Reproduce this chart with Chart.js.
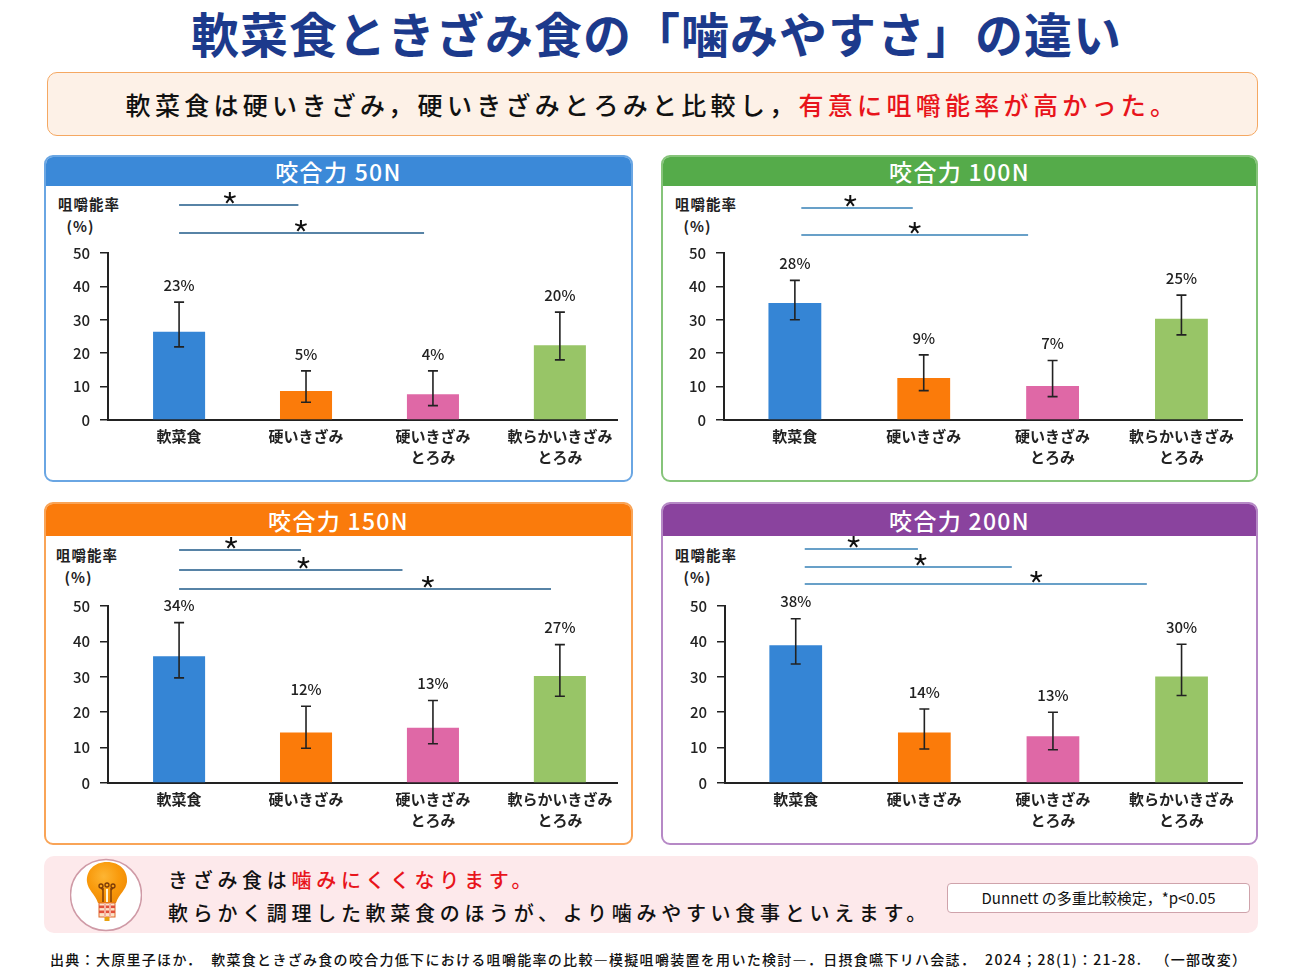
<!DOCTYPE html>
<html lang="ja">
<head>
<meta charset="UTF-8">
<title>軟菜食ときざみ食の「噛みやすさ」の違い</title>
<style>
    body {
        margin: 0;
        width: 1291px;
        height: 970px;
        background: #fff;
        font-family: "Noto Sans CJK JP", "Noto Sans", sans-serif;
        position: relative;
        overflow: hidden;
        color: #1a1a1a;
    }

    .title {
        position: absolute;
        left: 11px; top: 3px;
        width: 1291px;
        text-align: center;
        font-size: 48px;
        font-weight: 700;
        letter-spacing: 1px;
        color: #1c3a8c;
        line-height: 58px;
    }

    .lead {
        position: absolute;
        left: 47px; top: 72px;
        width: 1209px; height: 62px;
        background: #fdf1e7;
        border: 1.5px solid #f5a862;
        border-radius: 10px;
        text-align: center;
        font-size: 25px;
        line-height: 62px;
        letter-spacing: 4.3px;
        font-weight: 500;
        color: #111;
    }

    .red { color: #e8141b; }

    .panel {
        position: absolute;
        box-sizing: border-box;
        border: 2px solid;
        border-radius: 9px;
        overflow: hidden;
        background: #fff;
    }

    .panel .head {
        position: absolute;
        left: 0; right: 0; top: 0;
        color: #fff;
        text-align: center;
        font-size: 23px;
        font-weight: 500;
        letter-spacing: 1.3px;
    }

    .panel .wrap {
        position: absolute;
        left: 0; right: 0; bottom: 0;
    }

    .ytitle {
        position: absolute;
        font-size: 14.5px;
        font-weight: 700;
        line-height: 22px;
        color: #222;
        letter-spacing: 1px;
    }

    .note {
        position: absolute;
        left: 44px; top: 856px;
        width: 1214px; height: 77px;
        background: #fde9eb;
        border-radius: 10px;
    }

    .note .msg {
        position: absolute;
        left: 124px; top: 7px;
        font-size: 20px;
        font-weight: 500;
        letter-spacing: 4.7px;
        line-height: 33px;
        color: #111;
    }

    .note .bulb {
        position: absolute;
        left: 26px; top: 2px;
    }

    .dunnett {
        position: absolute;
        left: 903px; top: 27px;
        width: 301px; height: 28px;
        background: #fff;
        border: 1.5px solid #cfa3ab;
        border-radius: 4px;
        font-size: 15px;
        line-height: 28px;
        text-align: center;
        color: #111;
    }

    .source {
        position: absolute;
        left: 50px; top: 949px;
        font-size: 14px;
        font-weight: 500;
        letter-spacing: 1.3px;
        white-space: pre;
        color: #111;
    }
</style>
</head>
<body>
<div class="title">軟菜食ときざみ食の「噛みやすさ」の違い</div>
<div class="lead">軟菜食は硬いきざみ，硬いきざみとろみと比較し，<span class="red">有意に咀嚼能率が高かった。</span></div>

<div class="panel" id="p50" style="left:44px;top:155px;width:589px;height:327px;border-color:#6aa6e3;">
    <div class="head" style="height:29px;line-height:29px;background:#3b89d8;">咬合力 50N</div>
    <div class="ytitle" style="left:12px;top:36px;">咀嚼能率<br>&nbsp;&nbsp;(%)</div>
    <div class="wrap" style="top:29px;"><canvas id="c50"></canvas></div>
</div>
<div class="panel" id="p100" style="left:661px;top:155px;width:597px;height:327px;border-color:#86c47a;">
    <div class="head" style="height:29px;line-height:29px;background:#55ab4a;">咬合力 100N</div>
    <div class="ytitle" style="left:12px;top:36px;">咀嚼能率<br>&nbsp;&nbsp;(%)</div>
    <div class="wrap" style="top:29px;"><canvas id="c100"></canvas></div>
</div>
<div class="panel" id="p150" style="left:44px;top:502px;width:589px;height:343px;border-color:#f9a457;">
    <div class="head" style="height:32px;line-height:32px;background:#fa7b0c;">咬合力 150N</div>
    <div class="ytitle" style="left:10px;top:40px;">咀嚼能率<br>&nbsp;&nbsp;(%)</div>
    <div class="wrap" style="top:32px;"><canvas id="c150"></canvas></div>
</div>
<div class="panel" id="p200" style="left:661px;top:502px;width:597px;height:343px;border-color:#b689c6;">
    <div class="head" style="height:32px;line-height:32px;background:#8a439e;">咬合力 200N</div>
    <div class="ytitle" style="left:12px;top:40px;">咀嚼能率<br>&nbsp;&nbsp;(%)</div>
    <div class="wrap" style="top:32px;"><canvas id="c200"></canvas></div>
</div>

<div class="note">
    <svg class="bulb" width="72" height="74" viewBox="0 0 72 74">
        <defs>
            <radialGradient id="glass" cx="0.42" cy="0.35" r="0.7">
                <stop offset="0" stop-color="#fdb533"/>
                <stop offset="0.55" stop-color="#f99a0c"/>
                <stop offset="1" stop-color="#ef8a06"/>
            </radialGradient>
        </defs>
        <circle cx="36" cy="37" r="35.5" fill="#fff" stroke="#cf9aa6" stroke-width="1.5"/>
        <path d="M37 4 C24 4 16 13 17 24 C18 32 25 36 28 45 L46 45 C49 36 56 32 57 24 C58 13 50 4 37 4 Z" fill="url(#glass)"/>
        <path d="M33 44 L33 30 M41 44 L41 30" fill="none" stroke="#7a3a08" stroke-width="1.4"/>
        <path d="M37 44 L37 31" fill="none" stroke="#fff6d8" stroke-width="2"/>
        <circle cx="31" cy="28" r="2" fill="none" stroke="#7a3a08" stroke-width="1.3"/>
        <circle cx="37" cy="27" r="2" fill="none" stroke="#7a3a08" stroke-width="1.3"/>
        <circle cx="43" cy="28" r="2" fill="none" stroke="#7a3a08" stroke-width="1.3"/>
        <path d="M31 30 L33 32 M43 30 L41 32" stroke="#7a3a08" stroke-width="1.2"/>
        <rect x="29" y="45" width="16" height="14" fill="#fbe3c8" stroke="#e06a2a" stroke-width="1"/>
        <rect x="29" y="47.5" width="16" height="2.6" fill="#e2503a"/>
        <rect x="29" y="52.5" width="16" height="2.6" fill="#e2503a"/>
        <rect x="34" y="45" width="2" height="14" fill="#f3b0a0"/>
        <rect x="39" y="45" width="2" height="14" fill="#f3b0a0"/>
        <rect x="34.5" y="59" width="5" height="4" fill="#e8a20e"/>
    </svg>
    <div class="msg">きざみ食は<span class="red">噛みにくくなります。</span><br>軟らかく調理した軟菜食のほうが、より噛みやすい食事といえます。</div>
    <div class="dunnett">Dunnett の多重比較検定，*p&lt;0.05</div>
</div>

<div class="source">出典：大原里子ほか．  軟菜食ときざみ食の咬合力低下における咀嚼能率の比較―模擬咀嚼装置を用いた検討―．日摂食嚥下リハ会誌．  2024；28(1)：21-28.   （一部改変）</div>

<script src="https://cdn.jsdelivr.net/npm/chart.js/dist/chart.umd.min.js"></script>
<script>
    // categories (multi-line labels)
    const categories = [['軟菜食'], ['硬いきざみ'], ['硬いきざみ', 'とろみ'], ['軟らかいきざみ', 'とろみ']];
    const barColors = ['#3585d5', '#fb7b0a', '#df68a6', '#98c567'];

    // 咬合力 50N
    const mean50 = [26.4, 8.7, 7.7, 22.4];
    const errHi50 = [35.3, 14.7, 14.7, 32.3];
    const errLo50 = [21.9, 5.3, 4.3, 18.0];
    const pct50 = ['23%', '5%', '4%', '20%'];

    // 咬合力 100N
    const mean100 = [35.0, 12.6, 10.2, 30.3];
    const errHi100 = [41.8, 19.5, 17.8, 37.4];
    const errLo100 = [30.0, 8.8, 7.0, 25.5];
    const pct100 = ['28%', '9%', '7%', '25%'];

    // 咬合力 150N
    const mean150 = [35.8, 14.3, 15.6, 30.2];
    const errHi150 = [45.3, 21.7, 23.3, 39.1];
    const errLo150 = [29.7, 9.8, 11.1, 24.5];
    const pct150 = ['34%', '12%', '13%', '27%'];

    // 咬合力 200N
    const mean200 = [38.9, 14.3, 13.2, 30.1];
    const errHi200 = [46.4, 20.9, 20.0, 39.2];
    const errLo200 = [33.6, 9.6, 9.4, 24.7];
    const pct200 = ['38%', '14%', '13%', '30%'];

    // significant pairs vs 軟菜食 (index 0)
    const sigPairs50 = [[0, 1], [0, 2]];
    const sigPairs100 = [[0, 1], [0, 2]];
    const sigPairs150 = [[0, 1], [0, 2], [0, 3]];
    const sigPairs200 = [[0, 1], [0, 2], [0, 3]];

    const yTickStep = 10;
    const yMax = 50;

    function drawStar(ctx, cx, cy, r) {
        ctx.beginPath();
        for (let k = 0; k < 5; k++) {
            const a = -Math.PI / 2 + k * 2 * Math.PI / 5;
            ctx.moveTo(cx, cy);
            ctx.lineTo(cx + r * Math.cos(a), cy + r * Math.sin(a));
        }
        ctx.stroke();
    }

    // error bars, % labels and significance bars
    const overlay = {
        id: 'overlay',
        afterDatasetsDraw(chart, args, opts) {
            const {ctx, chartArea} = chart;
            const x = chart.scales.x, y = chart.scales.y;
            ctx.save();
            opts.lo.forEach((lo, i) => {
                const cx = x.getPixelForValue(i);
                const yl = y.getPixelForValue(lo);
                const yh = y.getPixelForValue(opts.hi[i]);
                ctx.strokeStyle = '#222';
                ctx.lineWidth = 1.6;
                ctx.beginPath();
                ctx.moveTo(cx, yl); ctx.lineTo(cx, yh);
                ctx.moveTo(cx - 5, yl); ctx.lineTo(cx + 5, yl);
                ctx.moveTo(cx - 5, yh); ctx.lineTo(cx + 5, yh);
                ctx.stroke();
                ctx.fillStyle = '#222';
                ctx.font = '500 15px "Noto Sans CJK JP"';
                ctx.textAlign = 'center';
                ctx.textBaseline = 'middle';
                ctx.fillText(opts.pct[i], cx, yh - 17);
            });
            opts.pairs.forEach((p, k) => {
                const s = opts.sig[k];
                const yy = chartArea.top - s.above;
                ctx.strokeStyle = opts.sigColor;
                ctx.lineWidth = 1.4;
                ctx.beginPath();
                ctx.moveTo(x.getPixelForValue(p[0] + s.from), yy);
                ctx.lineTo(x.getPixelForValue(p[1] - s.cut), yy);
                ctx.stroke();
                ctx.strokeStyle = '#111';
                ctx.lineWidth = 2;
                drawStar(ctx, x.getPixelForValue(s.star), yy - 7, 6);
            });
            ctx.restore();
        }
    };

    function makeChart(id, means, lo, hi, pct, pairs, sig, lay) {
        return new Chart(document.getElementById(id), {
            type: 'bar',
            data: {
                labels: categories,
                datasets: [{
                    data: means,
                    backgroundColor: barColors,
                    borderWidth: 0,
                    categoryPercentage: 1,
                    barPercentage: 0.41
                }]
            },
            plugins: [overlay],
            options: {
                responsive: true,
                maintainAspectRatio: false,
                animation: false,
                layout: {padding: {top: lay.top, right: lay.right, left: 0, bottom: 0}},
                plugins: {
                    legend: {display: false},
                    tooltip: {enabled: false},
                    overlay: {lo: lo, hi: hi, pct: pct, pairs: pairs, sig: sig, sigColor: lay.sigColor}
                },
                scales: {
                    x: {
                        grid: {display: false, drawTicks: false},
                        border: {display: true, color: '#222', width: 2},
                        ticks: {
                            color: '#222',
                            padding: 6,
                            maxRotation: 0,
                            autoSkip: false,
                            font: {family: '"Noto Sans CJK JP"', size: 15, weight: '700', lineHeight: 1.4}
                        },
                        afterFit: (s) => { s.height = lay.bottom; },
                        // the first bar sits a little further from the y axis than half a slot
                        afterUpdate: (s) => { s._startValue = -lay.lead; s._valueRange = lay.span; }
                    },
                    y: {
                        min: 0,
                        max: yMax,
                        grid: {display: true, drawOnChartArea: false, drawTicks: true, tickLength: 8, color: '#222', lineWidth: 1.5},
                        border: {display: true, color: '#222', width: 2},
                        ticks: {
                            stepSize: yTickStep,
                            color: '#222',
                            padding: 10,
                            font: {family: '"Noto Sans CJK JP"', size: 15, weight: '500'}
                        },
                        afterFit: (s) => { s.width = lay.left; }
                    }
                }
            }
        });
    }

    makeChart('c50', mean50, errLo50, errHi50, pct50, sigPairs50,
        [{from: 0, cut: 0.06, star: 0.4, above: 48}, {from: 0, cut: 0.07, star: 0.96, above: 20}],
        {top: 67, right: 14, left: 62, bottom: 60, lead: 0.56, span: 4.01, sigColor: '#1f5a88'});
    makeChart('c100', mean100, errLo100, errHi100, pct100, sigPairs100,
        [{from: 0.05, cut: 0.085, star: 0.43, above: 45}, {from: 0.05, cut: 0.19, star: 0.93, above: 18}],
        {top: 67, right: 14, left: 61, bottom: 60, lead: 0.55, span: 4.02, sigColor: '#3680b6'});
    makeChart('c150', mean150, errLo150, errHi150, pct150, sigPairs150,
        [{from: 0, cut: 0.04, star: 0.41, above: 56}, {from: 0, cut: 0.24, star: 0.98, above: 36}, {from: 0, cut: 0.07, star: 1.96, above: 17}],
        {top: 70, right: 14, left: 62, bottom: 60, lead: 0.56, span: 4.01, sigColor: '#1f5a88'});
    makeChart('c200', mean200, errLo200, errHi200, pct200, sigPairs200,
        [{from: 0.07, cut: 0.05, star: 0.45, above: 57}, {from: 0.07, cut: 0.32, star: 0.97, above: 39}, {from: 0.07, cut: 0.27, star: 1.87, above: 22}],
        {top: 70, right: 14, left: 62, bottom: 60, lead: 0.55, span: 4.02, sigColor: '#3680b6'});
</script>
</body>
</html>
